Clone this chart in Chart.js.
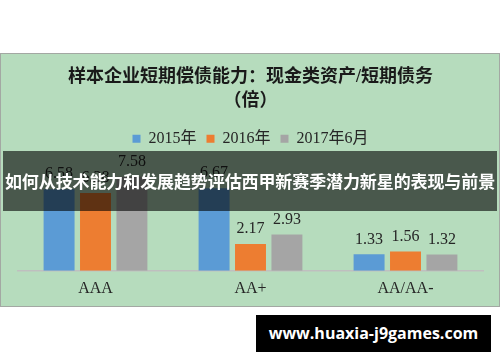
<!DOCTYPE html>
<html>
<head>
<meta charset="utf-8">
<script src="https://cdn.jsdelivr.net/npm/chart.js@4"></script>
<style>
  html, body { margin: 0; padding: 0; background: #ffffff; width: 500px; height: 362px; overflow: hidden; }
  #box { position: absolute; left: 0; top: 53px; width: 500px; height: 254px; box-sizing: border-box;
         border: 1px solid #a3a8a3; background: #b6dcbd; }
  #wrap { position: absolute; left: 0; top: 0; width: 498px; height: 252px; }
  #banner { position: absolute; left: 3px; top: 151px; width: 494px; height: 60px; background: rgba(0,0,0,0.6);
            color: #ffffff; font-family: "Noto Sans CJK SC", sans-serif; font-weight: bold; font-size: 17px;
            line-height: 60px; text-align: center; white-space: nowrap; letter-spacing: -0.1px; }
  #mark { position: absolute; left: 256px; top: 315px; width: 235px; height: 37px; background: #000000;
          color: #ffffff; font-family: "Open Sans", sans-serif; font-weight: bold; font-size: 16px;
          line-height: 37px; text-align: center; white-space: nowrap; }
</style>
</head>
<body>
<div id="box"><div id="wrap"><canvas id="c"></canvas></div></div>
<div id="banner">如何从技术能力和发展趋势评估西甲新赛季潜力新星的表现与前景</div>
<div id="mark">www.huaxia-j9games.com</div>
<script>
const categories = ["AAA", "AA+", "AA/AA-"];
const seriesNames = ["2015年", "2016年", "2017年6月"];
const values2015 = [6.58, 6.67, 1.33];
const values2016 = [6.28, 2.17, 1.56];
const values2017 = [7.58, 2.93, 1.32];
const titleLines = ["样本企业短期偿债能力：现金类资产/短期债务", "（倍）"];

const colors = ["#5b9bd5", "#ed7d31", "#a5a5a5"];
const serif = '"Liberation Serif", "Times New Roman", "Noto Sans CJK SC", serif';

const labelPlugin = {
  id: "barLabels",
  afterDatasetsDraw(chart) {
    const ctx = chart.ctx;
    ctx.save();
    ctx.font = "16px " + serif;
    ctx.fillStyle = "#262626";
    ctx.textAlign = "center";
    ctx.textBaseline = "bottom";
    chart.data.datasets.forEach((ds, i) => {
      const meta = chart.getDatasetMeta(i);
      meta.data.forEach((bar, j) => {
        ctx.fillText(ds.data[j].toFixed(2), bar.x, bar.y - 7);
      });
    });
    ctx.restore();
  }
};

new Chart(document.getElementById("c"), {
  type: "bar",
  data: {
    labels: categories,
    datasets: [
      { label: seriesNames[0], data: values2015, backgroundColor: colors[0] },
      { label: seriesNames[1], data: values2016, backgroundColor: colors[1] },
      { label: seriesNames[2], data: values2017, backgroundColor: colors[2] }
    ]
  },
  options: {
    responsive: true,
    maintainAspectRatio: false,
    animation: false,
    datasets: { bar: { categoryPercentage: 0.705, barPercentage: 0.85 } },
    layout: { padding: { left: 17, right: 16, top: 0, bottom: 0 } },
    plugins: {
      title: {
        display: true,
        text: titleLines,
        color: "#1a1a1a",
        font: { family: serif, size: 18, weight: "bold", lineHeight: 1.3 },
        padding: { top: 12, bottom: 8 }
      },
      legend: {
        display: true,
        position: "top",
        labels: {
          boxWidth: 8, boxHeight: 8, padding: 10,
          color: "#262626",
          font: { family: serif, size: 16 }
        }
      },
      tooltip: { enabled: false }
    },
    scales: {
      x: {
        grid: { display: false, drawTicks: false },
        border: { display: true, color: "#bfbfbf", width: 1.5 },
        ticks: { color: "#262626", font: { family: serif, size: 16 }, padding: 8 }
      },
      y: {
        display: false,
        min: 0,
        max: 9.2
      }
    }
  },
  plugins: [labelPlugin]
});
</script>
</body>
</html>
